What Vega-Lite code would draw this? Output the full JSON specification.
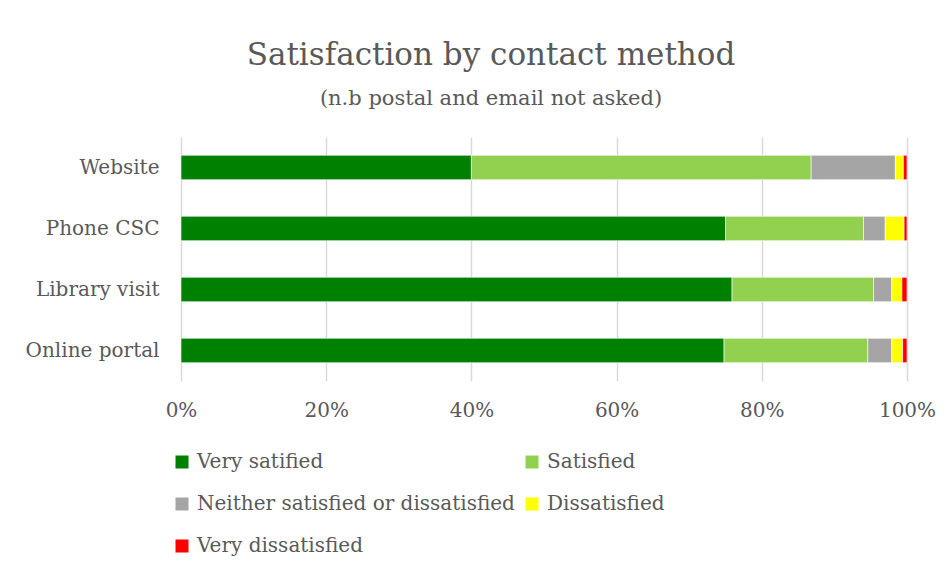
{
  "$schema": "https://vega.github.io/schema/vega-lite/v6.json",
  "autosize": {"type": "none"},
  "width": 726,
  "height": 244,
  "padding": {"left": 181, "top": 137, "right": 45, "bottom": 197},
  "background": "white",
  "title": {
    "text": "Satisfaction by contact method",
    "subtitle": "(n.b postal and email not asked)",
    "anchor": "middle",
    "dx": -53,
    "offset": 27,
    "font": "DejaVu Serif",
    "fontSize": 31,
    "fontWeight": "normal",
    "color": "#595959",
    "subtitleFont": "DejaVu Serif",
    "subtitleFontSize": 21,
    "subtitleColor": "#595959",
    "subtitlePadding": 16
  },
  "data": {
    "values": [
      {"method": "Website", "rating": "Very satified", "pct": 40.0},
      {"method": "Website", "rating": "Satisfied", "pct": 46.8},
      {"method": "Website", "rating": "Neither satisfied or dissatisfied", "pct": 11.6},
      {"method": "Website", "rating": "Dissatisfied", "pct": 1.1},
      {"method": "Website", "rating": "Very dissatisfied", "pct": 0.5},
      {"method": "Phone CSC", "rating": "Very satified", "pct": 75.0},
      {"method": "Phone CSC", "rating": "Satisfied", "pct": 19.0},
      {"method": "Phone CSC", "rating": "Neither satisfied or dissatisfied", "pct": 3.0},
      {"method": "Phone CSC", "rating": "Dissatisfied", "pct": 2.6},
      {"method": "Phone CSC", "rating": "Very dissatisfied", "pct": 0.4},
      {"method": "Library visit", "rating": "Very satified", "pct": 75.9},
      {"method": "Library visit", "rating": "Satisfied", "pct": 19.5},
      {"method": "Library visit", "rating": "Neither satisfied or dissatisfied", "pct": 2.5},
      {"method": "Library visit", "rating": "Dissatisfied", "pct": 1.4},
      {"method": "Library visit", "rating": "Very dissatisfied", "pct": 0.7},
      {"method": "Online portal", "rating": "Very satified", "pct": 74.8},
      {"method": "Online portal", "rating": "Satisfied", "pct": 19.8},
      {"method": "Online portal", "rating": "Neither satisfied or dissatisfied", "pct": 3.3},
      {"method": "Online portal", "rating": "Dissatisfied", "pct": 1.5},
      {"method": "Online portal", "rating": "Very dissatisfied", "pct": 0.6}
    ]
  },
  "transform": [
    {"calculate": "indexof(['Very satified', 'Satisfied', 'Neither satisfied or dissatisfied', 'Dissatisfied', 'Very dissatisfied'], datum.rating)", "as": "rank"}
  ],
  "mark": {"type": "bar", "stroke": "white", "strokeWidth": 0.6},
  "encoding": {
    "y": {
      "field": "method",
      "type": "nominal",
      "sort": ["Website", "Phone CSC", "Library visit", "Online portal"],
      "scale": {"paddingInner": 0.6, "paddingOuter": 0.3},
      "axis": {
        "title": null,
        "ticks": false,
        "domain": false,
        "labelPadding": 22,
        "labelFont": "DejaVu Serif",
        "labelFontSize": 20,
        "labelColor": "#595959"
      }
    },
    "x": {
      "field": "pct",
      "type": "quantitative",
      "stack": "normalize",
      "scale": {"domain": [0, 1], "nice": false},
      "axis": {
        "title": null,
        "format": ".0%",
        "values": [0, 0.2, 0.4, 0.6, 0.8, 1],
        "ticks": false,
        "domain": false,
        "grid": true,
        "gridColor": "#d9d9d9",
        "gridWidth": 1.5,
        "labelPadding": 19,
        "labelFont": "DejaVu Serif",
        "labelFontSize": 20,
        "labelColor": "#595959",
        "labelFlush": false
      }
    },
    "order": {"field": "rank", "type": "quantitative", "sort": "ascending"},
    "color": {
      "field": "rating",
      "type": "nominal",
      "sort": ["Very satified", "Satisfied", "Neither satisfied or dissatisfied", "Dissatisfied", "Very dissatisfied"],
      "scale": {
        "domain": ["Very satified", "Satisfied", "Neither satisfied or dissatisfied", "Dissatisfied", "Very dissatisfied"],
        "range": ["#008000", "#92d050", "#a5a5a5", "#ffff00", "#ff0000"]
      },
      "legend": {
        "title": null,
        "orient": "none",
        "legendX": -9,
        "legendY": 315,
        "direction": "horizontal",
        "columns": 2,
        "columnPadding": 7,
        "rowPadding": 22,
        "symbolType": "square",
        "symbolSize": 169,
        "symbolStrokeWidth": 0,
        "labelFont": "DejaVu Serif",
        "labelFontSize": 20,
        "labelColor": "#595959",
        "labelOffset": 5,
        "labelLimit": 400
      }
    }
  },
  "config": {"view": {"stroke": null}}
}
